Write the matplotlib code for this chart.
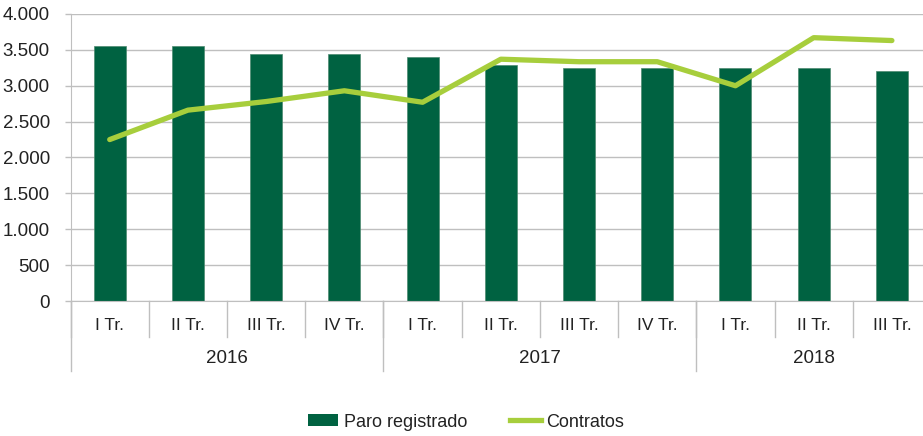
import numpy as np
import matplotlib.pyplot as plt
from matplotlib.patches import Patch
from matplotlib.lines import Line2D
from matplotlib.transforms import blended_transform_factory

# ============================================================
# DATA
# ============================================================
quarters = ["I Tr.", "II Tr.", "III Tr.", "IV Tr.",
            "I Tr.", "II Tr.", "III Tr.", "IV Tr.",
            "I Tr.", "II Tr.", "III Tr."]
years = ["2016", "2017", "2018"]
year_sizes = [4, 4, 3]

paro = [3550, 3550, 3440, 3440, 3400, 3290, 3250, 3250, 3250, 3250, 3210]
contratos = [2250, 2660, 2780, 2930, 2770, 3370, 3335, 3335, 3000, 3670, 3630]

BAR_COLOR = "#006241"
LINE_COLOR = "#A7CE3C"
GRID_COLOR = "#BFBFBF"
TEXT_COLOR = "#222222"

plt.rcParams["font.family"] = ["Liberation Sans", "DejaVu Sans"]
plt.rcParams["font.size"] = 13

# ============================================================
# PLOT
# ============================================================
fig = plt.figure(figsize=(9.23, 4.36), dpi=100)
ax = fig.add_axes([70.6 / 923, 1 - 301 / 436, 860.4 / 923, 287 / 436])

x = np.arange(len(paro))
ax.bar(x, paro, width=0.41, color=BAR_COLOR, edgecolor="#4d8a70",
       linewidth=0.5, zorder=2)
ax.plot(x, contratos, color=LINE_COLOR, linewidth=3.8,
        solid_capstyle="round", solid_joinstyle="round", zorder=3)

ax.set_xlim(-0.5, len(paro) - 0.5)
ax.set_ylim(0, 4000)
ax.set_yticks(np.arange(0, 4001, 500))
ax.set_yticklabels([f"{v:,}".replace(",", ".") for v in range(0, 4001, 500)],
                   color=TEXT_COLOR, fontsize=13.5)
ax.tick_params(axis="y", length=4, width=1, color=GRID_COLOR, pad=11)
ax.set_xticks([])
ax.grid(axis="y", color=GRID_COLOR, linewidth=1, zorder=0)
ax.set_axisbelow(True)

for s in ["top", "right"]:
    ax.spines[s].set_visible(False)
ax.spines["left"].set_color(GRID_COLOR)
ax.spines["bottom"].set_color(GRID_COLOR)

# category axis: quarter + year groups
tr = blended_transform_factory(ax.transData, ax.transAxes)
for i, q in enumerate(quarters):
    ax.text(i, -0.084, q, transform=tr, ha="center", va="center",
            color=TEXT_COLOR, fontsize=12.5)
    ax.plot([i - 0.5, i - 0.5], [0, -0.125], transform=tr, color=GRID_COLOR,
            linewidth=1, clip_on=False)

start = 0
for y, n in zip(years, year_sizes):
    ax.text(start + n / 2 - 0.5, -0.199, y, transform=tr, ha="center",
            va="center", color=TEXT_COLOR, fontsize=13.5)
    ax.plot([start - 0.5, start - 0.5], [0, -0.244], transform=tr,
            color=GRID_COLOR, linewidth=1, clip_on=False)
    start += n

handles = [
    Patch(facecolor=BAR_COLOR, edgecolor="none"),
    Line2D([0], [0], color=LINE_COLOR, linewidth=3.8),
]
fig.legend(handles, ["Paro registrado", "Contratos"], loc="center",
           bbox_to_anchor=(466 / 923, 1 - 422 / 436), ncol=2, frameon=False,
           handlelength=1.7, handleheight=0.6, handletextpad=0.3,
           columnspacing=2.4, labelcolor=TEXT_COLOR, fontsize=13)

fig.savefig("out.png", dpi=100)
plt.close(fig)
